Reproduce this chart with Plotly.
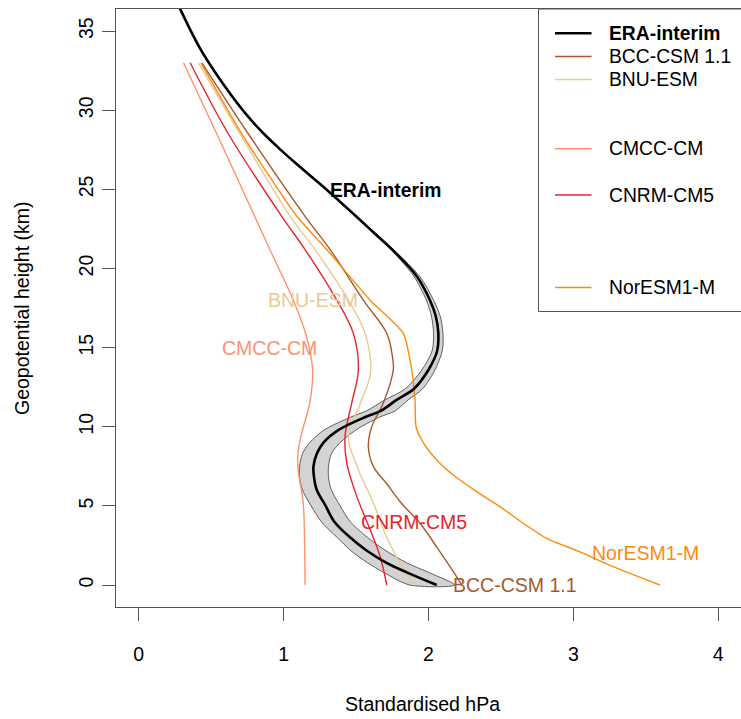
import plotly.graph_objects as go

# ---------------- data ----------------
era_y = [37.0, 36.4, 35.0, 33.8, 32.5, 31.0, 29.6, 28.5, 27.5, 26.6, 25.0, 24.3, 23.3, 22.2, 21.1,
         19.5, 18.0, 17.0, 15.9, 14.8, 13.6, 12.4, 11.7, 11.0, 10.6, 9.8, 9.0, 8.3, 7.5, 6.8, 6.0,
         5.0, 4.0, 3.0, 2.2, 1.4, 0.8, 0.0]
era_x = [0.255, 0.286, 0.36, 0.43, 0.52, 0.635, 0.755, 0.865, 0.98, 1.09, 1.295, 1.38, 1.50, 1.63, 1.76,
         1.92, 2.01, 2.05, 2.068, 2.06, 2.0, 1.90, 1.78, 1.67, 1.56, 1.38, 1.275, 1.229, 1.206, 1.21,
         1.229, 1.29, 1.35, 1.46, 1.57, 1.71, 1.85, 2.057]

# ERA-interim uncertainty band (lower / upper x at each height)
band_y = [24.3, 23.3, 21.1, 19.5, 18.0, 17.0, 15.9, 14.8, 13.6, 12.4, 11.7, 11.0, 10.6, 9.8, 9.0,
          8.3, 7.5, 6.8, 6.0, 5.0, 4.0, 3.0, 2.2, 1.4, 0.8, 0.0]
band_lo = [1.375, 1.495, 1.75, 1.90, 1.985, 2.02, 2.035, 2.025, 1.955, 1.84, 1.70, 1.57, 1.46, 1.28,
           1.18, 1.13, 1.11, 1.11, 1.13, 1.19, 1.26, 1.37, 1.46, 1.58, 1.69, 1.87]
band_hi = [1.385, 1.505, 1.77, 1.94, 2.035, 2.08, 2.10, 2.095, 2.045, 1.96, 1.86, 1.77, 1.66, 1.50,
           1.39, 1.33, 1.31, 1.31, 1.33, 1.39, 1.46, 1.58, 1.70, 1.85, 2.00, 2.18]

bcc_y = [33.0, 28.5, 23.3, 21.2, 18.0, 15.9, 14.5, 13.6, 11.5, 10.0, 8.7, 7.5, 6.4, 5.2, 3.9, 2.4, 1.0, 0.0]
bcc_x = [0.436, 0.757, 1.148, 1.321, 1.55, 1.712, 1.75, 1.757, 1.688, 1.608, 1.585, 1.619, 1.712,
         1.81, 1.941, 2.057, 2.16, 2.23]

bnu_y = [33.0, 28.5, 23.3, 21.2, 18.0, 15.9, 13.4, 11.5, 9.4, 7.3, 5.2, 3.0, 1.0, 0.0]
bnu_x = [0.412, 0.70, 1.045, 1.217, 1.447, 1.562, 1.60, 1.53, 1.447, 1.516, 1.619, 1.712, 1.826, 1.90]

cmcc_y = [33.0, 28.5, 24.3, 21.2, 18.0, 15.8, 13.6, 11.5, 9.6, 8.4, 7.3, 5.2, 3.0, 0.0]
cmcc_x = [0.309, 0.539, 0.75, 0.905, 1.067, 1.155, 1.20, 1.18, 1.125, 1.10, 1.10, 1.135,
          1.144, 1.148]

cnrm_y = [33.0, 28.5, 23.3, 21.2, 18.0, 15.9, 13.6, 11.5, 9.4, 7.7, 5.6, 3.5, 1.8, 0.0]
cnrm_x = [0.355, 0.619, 0.987, 1.148, 1.367, 1.481, 1.516, 1.47, 1.424, 1.436, 1.505, 1.597,
          1.666, 1.712]

nor_y = [33.0, 28.5, 23.3, 21.2, 18.0, 15.9, 13.6, 11.7, 10.0, 9.0, 7.9, 6.95, 5.9, 4.95, 3.9,
         2.95, 2.1, 1.16, 0.0]
nor_x = [0.429, 0.712, 1.091, 1.298, 1.597, 1.826, 1.884, 1.907, 1.914, 1.964, 2.057, 2.171,
         2.332, 2.493, 2.654, 2.815, 3.045, 3.274, 3.597]

series_names = ["ERA-interim", "BCC-CSM 1.1", "BNU-ESM", "CMCC-CM", "CNRM-CM5", "NorESM1-M"]
series_colors = ["#000000", "#A9582E", "#EBC894", "#FF916E", "#E8242C", "#FF8A0A"]

# in-plot labels (data coordinates)
label_x = [1.70, 2.6, 1.2, 0.9, 1.9, 3.5]
label_y = [24.9, 0.0, 18.0, 15.0, 4.0, 2.0]

x_ticks = [0, 1, 2, 3, 4]
y_ticks = [0, 5, 10, 15, 20, 25, 30, 35]

FONT = "Liberation Sans, Arial, Helvetica, sans-serif"
FS = 19.5

fig = go.Figure()

# ERA uncertainty band
fig.add_trace(go.Scatter(
    x=band_lo + band_hi[::-1], y=band_y + band_y[::-1],
    mode="lines", fill="toself", fillcolor="#D3D3D3",
    line=dict(color="#505050", width=0.9, shape="spline", smoothing=0.8),
    hoverinfo="skip", showlegend=False))

model_data = [(bcc_x, bcc_y), (bnu_x, bnu_y), (cmcc_x, cmcc_y), (cnrm_x, cnrm_y), (nor_x, nor_y)]
for (mx, my), name, col in zip(model_data, series_names[1:], series_colors[1:]):
    sm = 0.6 if name == "NorESM1-M" else 1.0
    fig.add_trace(go.Scatter(x=mx, y=my, mode="lines", name=name,
                             line=dict(color=col, width=1.4, shape="spline", smoothing=sm),
                             showlegend=False))

fig.add_trace(go.Scatter(x=era_x, y=era_y, mode="lines", name="ERA-interim",
                         line=dict(color="#000000", width=2.6, shape="spline", smoothing=1.0),
                         showlegend=False))

# in-plot labels
for name, col, lx, ly in zip(series_names, series_colors, label_x, label_y):
    bold = name == "ERA-interim"
    txt = "<b>%s</b>" % name if bold else name
    fig.add_annotation(x=lx, y=ly, xref="x", yref="y", text=txt, showarrow=False,
                       font=dict(family=FONT, size=19.3 if bold else FS, color=col),
                       xanchor="center", yanchor="middle")

# ---------------- manual legend (R style, with blank rows) ----------------
W, H = 741, 719
L, R, T, B = 116, 0, 9, 112
pw, ph = W - L - R, H - T - B


def px2x(px):
    return (px - L) / pw


def py2y(py):
    return (H - B - py) / ph


legend_rows = [0, 1, 2, 5, 7, 11]
row0, row_step = 33.3, 23.1
fig.add_shape(type="rect", xref="paper", yref="paper",
              x0=px2x(538.5), x1=px2x(760), y0=py2y(311.5), y1=py2y(9),
              line=dict(color="#555555", width=1), fillcolor="rgba(0,0,0,0)")
for name, col, r in zip(series_names, series_colors, legend_rows):
    yy = py2y(row0 + r * row_step)
    fig.add_shape(type="line", xref="paper", yref="paper", x0=px2x(555), x1=px2x(591.5),
                  y0=yy, y1=yy, line=dict(color=col, width=2.6 if r == 0 else 1.5))
    txt = "<b>%s</b>" % name if r == 0 else name
    fig.add_annotation(x=px2x(607), y=yy, xref="paper", yref="paper", text=txt, showarrow=False,
                       xanchor="left", yanchor="middle",
                       font=dict(family=FONT, size=19.3, color="#000000"))

# axis titles
fig.add_annotation(x=px2x(422), y=py2y(704), xref="paper", yref="paper", text="Standardised hPa",
                   showarrow=False, xanchor="center", yanchor="middle",
                   font=dict(family=FONT, size=FS, color="#000000"))
fig.add_annotation(x=px2x(22), y=py2y(308), xref="paper", yref="paper",
                   text="Geopotential height (km)", textangle=-90,
                   showarrow=False, xanchor="center", yanchor="middle",
                   font=dict(family=FONT, size=FS, color="#000000"))

axis_common = dict(showgrid=False, zeroline=False, showline=True, mirror=True,
                   linecolor="#555555", linewidth=1, ticks="outside", ticklen=13,
                   tickwidth=1, tickcolor="#555555",
                   tickfont=dict(family=FONT, size=FS, color="#000000"))

fig.update_layout(
    width=W, height=H, margin=dict(l=L, r=R, t=T, b=B),
    paper_bgcolor="white", plot_bgcolor="white",
    xaxis=dict(range=[-0.157, 4.157], tickmode="array", tickvals=x_ticks,
               ticktext=[str(v) for v in x_ticks], ticklabelstandoff=17, **axis_common),
    yaxis=dict(range=[-1.39, 36.4], tickmode="array", tickvals=y_ticks,
               ticktext=[str(v) for v in y_ticks], tickangle=-90, ticklabelstandoff=1,
               **axis_common),
    showlegend=False,
)

fig.write_html("out.html")
